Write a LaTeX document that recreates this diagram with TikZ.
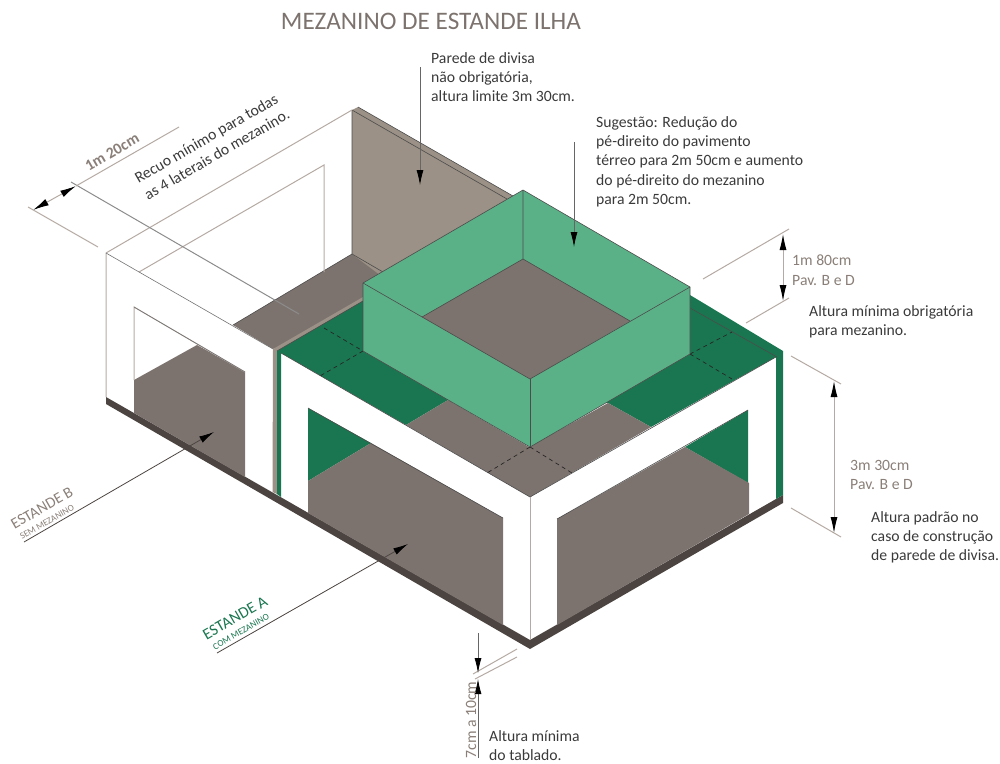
\documentclass[tikz,border=0pt]{standalone}
\usepackage{fontspec}
\setmainfont{Carlito}
\usetikzlibrary{arrows.meta}
\definecolor{lightgreen}{HTML}{5BB187}
\definecolor{darkgreen}{HTML}{1A7650}
\definecolor{floorgray}{HTML}{7D736E}
\definecolor{wallgray}{HTML}{9B9186}
\definecolor{slabgray}{HTML}{4B4441}
\definecolor{dimtext}{HTML}{8A7F78}
\definecolor{dimline}{HTML}{B5AAA3}
\definecolor{bodytext}{HTML}{3A3A3A}
\tikzset{
  edgeline/.style={draw=black!70,line width=0.6pt,line join=round},
  dashline/.style={draw=black!85,line width=0.7pt,dash pattern=on 4pt off 3.5pt},
  thinline/.style={draw=dimline,line width=1pt},
  dimension/.style={draw=dimline,line width=1pt,{Latex[length=16pt,width=7pt,black]}-{Latex[length=16pt,width=7pt,black]}},
  pointer/.style={draw=black!60,line width=0.8pt,-{Latex[length=15pt,width=7pt,black]}},
  note/.style={anchor=north west,inner sep=0pt,align=left,text=bodytext,font=\fontsize{15.7}{19.3}\selectfont},
  dimnote/.style={note,text=dimtext}
}
\begin{document}
\begin{tikzpicture}[x=1pt,y=-1pt]
\useasboundingbox (0,0) rectangle (1000,763);
% slab
\fill[slabgray] (106,397) -- (530,640) -- (783,495) -- (783,503) -- (530,649) -- (106,404) -- cycle;
% stand B
\fill[floorgray] (233,325) -- (352,254) -- (420,293) -- (273,349) -- cycle;
\fill[wallgray] (352,110) -- (358,107) -- (513,196) -- (400,290) -- (352,254) -- cycle;
\draw[edgeline] (358,107) -- (513,196);
\draw[edgeline] (352,110) -- (507,199);
\draw[edgeline] (352,110) -- (352,254) -- (383,272);
\draw[edgeline] (233,325) -- (352,254);
\draw[thinline] (106,397) -- (106,253) -- (352,110);
\draw[thinline] (139,272) -- (324,165) -- (324,272);
\draw[edgeline,draw=black!55] (106,253) -- (273,349);
\fill[floorgray] (134,380) -- (197,345) -- (245,372) -- (245,477) -- (134,413) -- cycle;
\draw[thinline] (134,380) -- (134,307) -- (245,372);
\draw[edgeline,draw=black!55] (134,307) -- (245,372);
% stand A
\fill[wallgray] (273,349) -- (363,297) -- (363,301) -- (277,351) -- (277,494) -- (272.5,492) -- cycle;
\fill[darkgreen] (277,351) -- (363,301) -- (690,295) -- (783,351) -- (783,495) -- (776,499) -- (776,357) -- (651,427) -- (608,403) -- (448,400) -- (406,425) -- (281,353) -- (281,497) -- (277,494) -- cycle;
\fill[floorgray] (406,425) -- (448,400) -- (529,447) -- (608,403) -- (651,427) -- (530,497) -- cycle;
\draw[edgeline] (277,351) -- (363,301);
\draw[edgeline] (690,308) -- (777,357);
\draw[edgeline] (281,353) -- (530,497) -- (776,357);
\fill[darkgreen] (308,408) -- (371,443) -- (308,481) -- cycle;
\fill[floorgray] (308,481) -- (371,443) -- (503,518) -- (503,625) -- (308,513) -- cycle;
\draw[edgeline] (308,408) -- (503,518);
\fill[darkgreen] (748,410) -- (748,483) -- (685,447) -- cycle;
\fill[floorgray] (557,519) -- (685,447) -- (749,483) -- (749,514) -- (557,625) -- cycle;
\draw[edgeline] (557,519) -- (748,410);
\draw[thinline] (530,497) -- (530,640);
% dashed
\foreach \xa/\ya/\xb/\yb in {324/328/363/351,363/351/320/376,690/354/732/332,690/354/732/379,530/447/487/473,530/447/572/473}
  \draw[dashline] (\xa,\ya) -- (\xb,\yb);
% mezzanine box
\fill[lightgreen] (363,283) -- (523,190) -- (690,287) -- (690,354) -- (530,447) -- (363,351) -- cycle;
\fill[floorgray] (523,259) -- (630,321) -- (530,379) -- (422,317) -- cycle;
\draw[edgeline] (363,283) -- (523,190) -- (690,287) -- (690,354) -- (530,447) -- (363,351) -- cycle;
\draw[edgeline] (363,283) -- (530,379) -- (690,287);
\draw[edgeline] (530,379) -- (530,447);
\draw[edgeline] (523,190) -- (523,259) -- (630,321);
\draw[edgeline] (523,259) -- (422,317);
% title
\node[anchor=center,inner sep=0pt,text=floorgray,font=\fontsize{25.2}{30}\selectfont] (title) at (431,21) {MEZANINO DE ESTANDE ILHA};
% coordinates of the dimension lines
\coordinate (recuoa) at (33,210);
\coordinate (recuob) at (76,186);
\coordinate (recuoc) at (179,127);
\coordinate (parede) at (420,67);
\coordinate (paredetip) at (420,185);
\coordinate (sugest) at (574,142);
\coordinate (sugesttip) at (574,247);
\coordinate (mezanoa) at (783,234);
\coordinate (mezanob) at (783,301);
\coordinate (padraoa) at (834,381);
\coordinate (padraob) at (834,533);
\coordinate (estbtail) at (24,542);
\coordinate (estbtip) at (214,432);
\coordinate (estatail) at (217,653);
\coordinate (estatip) at (408,544);
\coordinate (tabtop) at (478,633);
\coordinate (tabtoptip) at (478,673);
\coordinate (tabbot) at (478,758);
\coordinate (tabbottip) at (478,679);
% dimensions
\draw[thinline] (28,207) -- (98,247);
\draw[thinline,draw=black!45] (71,182) -- (299,314);
\draw[thinline] (recuob) -- (recuoc);
\draw[dimension] (recuoa) -- (recuob);
\draw[thinline] (703,279) -- (789,229);
\draw[thinline] (746,323) -- (789,298);
\draw[dimension] (mezanoa) -- (mezanob);
\draw[thinline] (791,356) -- (841,384);
\draw[thinline] (791,508) -- (841,537);
\draw[dimension] (padraoa) -- (padraob);
\draw[thinline] (473,674) -- (517,649);
\draw[thinline] (475,679) -- (517,657);
\draw[pointer] (tabtop) -- (tabtoptip);
\draw[pointer] (tabbot) -- (tabbottip);
\draw[pointer] (parede) -- (paredetip);
\draw[pointer] (sugest) -- (sugesttip);
\draw[pointer,draw=slabgray] (estbtail) -- (estbtip);
\draw[pointer,draw=slabgray] (estatail) -- (estatip);
% labels
\node[note] (divisa) at (431,52) {Parede de divisa\\n\~ao obrigat\'oria,\\altura limite 3m 30cm.};
\node[note] (sugestao) at (596,116) {Sugest\~ao: Redu\c{c}\~ao do\\p\'e-direito do pavimento\\t\'erreo para 2m 50cm e aumento\\do p\'e-direito do mezanino\\para 2m 50cm.};
\node[dimnote] (altb) at (792,255) {1m 80cm\\Pav. B e D};
\node[note] (minima) at (809,305) {Altura m\'inima obrigat\'oria\\para mezanino.};
\node[dimnote] (alta) at (850,460) {3m 30cm\\Pav. B e D};
\node[note] (padrao) at (871,511) {Altura padr\~ao no\\caso de constru\c{c}\~ao\\de parede de divisa.};
\node[note] (tablado) at (489,730) {Altura m\'inima\\do tablado.};
\node[dimnote,anchor=center,rotate=90] (tabdim) at (471,720) {7cm a 10cm};
\node[note,anchor=center,rotate=30] (recuo) at (212,146) {Recuo m\'inimo para todas\\as 4 laterais do mezanino.};
\node[dimnote,anchor=center,rotate=30,font=\bfseries\fontsize{15.7}{19}\selectfont] (recuodim) at (112,152) {1m 20cm};
\node[anchor=center,rotate=30,inner sep=0pt,text=dimtext,font=\fontsize{15.5}{18}\selectfont] (estb) at (42,508) {ESTANDE B};
\node[anchor=center,rotate=30,inner sep=0pt,text=dimtext,font=\fontsize{9.2}{11}\selectfont] (estbsub) at (47,522) {SEM MEZANINO};
\node[anchor=center,rotate=30,inner sep=0pt,text=darkgreen,font=\fontsize{16}{18}\selectfont] (esta) at (235,618) {ESTANDE A};
\node[anchor=center,rotate=30,inner sep=0pt,text=darkgreen,font=\fontsize{9.2}{11}\selectfont] (estasub) at (241,632) {COM MEZANINO};
\end{tikzpicture}
\end{document}
